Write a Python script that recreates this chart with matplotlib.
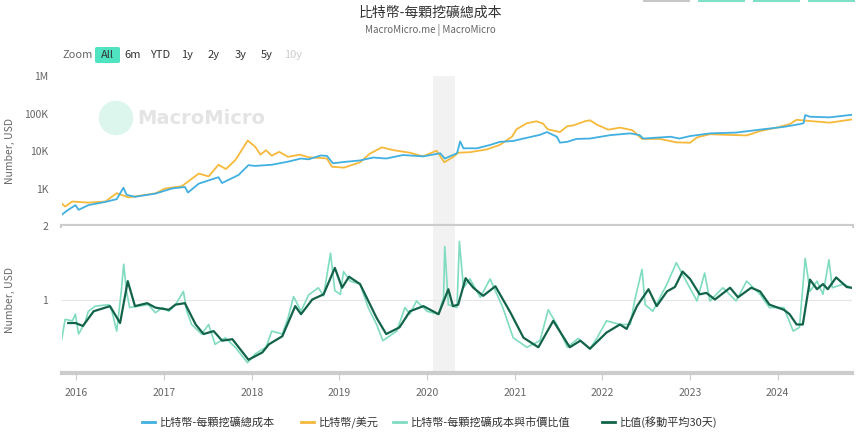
import numpy as np
import pandas as pd
import matplotlib
matplotlib.use("Agg")
import matplotlib.pyplot as plt
from matplotlib.lines import Line2D
from matplotlib.patches import FancyBboxPatch, Ellipse, Rectangle

plt.rcParams['font.family'] = ['Noto Sans CJK TC', 'DejaVu Sans']

# 比特幣-每顆挖礦總成本 (USD)
cost_dates = ["2015-11-01", "2015-11-28", "2015-12-28", "2016-01-10", "2016-02-20", "2016-05-01",
              "2016-06-17", "2016-07-15", "2016-07-28", "2016-09-01", "2016-11-25", "2017-02-02",
              "2017-03-28", "2017-04-10", "2017-05-25", "2017-08-15", "2017-08-30", "2017-11-07",
              "2017-12-18", "2018-01-15", "2018-03-25", "2018-06-01", "2018-07-25", "2018-08-25",
              "2018-10-15", "2018-11-10", "2018-12-05", "2019-01-20", "2019-03-28", "2019-05-22",
              "2019-07-15", "2019-09-23", "2019-12-17", "2020-02-25", "2020-03-15", "2020-05-05",
              "2020-05-18", "2020-06-01", "2020-07-27", "2020-09-20", "2020-10-30", "2020-12-25",
              "2021-02-06", "2021-04-16", "2021-05-15", "2021-06-25", "2021-07-08", "2021-08-08",
              "2021-09-15", "2021-11-10", "2022-02-03", "2022-04-27", "2022-06-05", "2022-06-20",
              "2022-10-12", "2022-11-18", "2023-01-01", "2023-03-25", "2023-07-12", "2023-11-02",
              "2024-01-27", "2024-04-01", "2024-04-18", "2024-04-25", "2024-05-15", "2024-08-05",
              "2024-11-03"]
cost_vals = [200, 270, 360, 270, 360, 440,
             520, 1050, 680, 600, 730, 1000,
             1100, 780, 1350, 2000, 1400, 2300,
             4200, 4000, 4300, 5200, 6300, 6000,
             7600, 7400, 4700, 5100, 5600, 6700,
             6300, 7800, 7200, 8700, 6300, 8700,
             18000, 11800, 11800, 14500, 17500, 18500,
             21500, 27000, 32000, 24000, 16700, 17600,
             21000, 21500, 26500, 29500, 26500, 21500,
             24000, 21500, 25000, 29500, 31000, 38000,
             44000, 52000, 55000, 91000, 82000, 79000,
             92000]

# 比特幣/美元
price_dates = ["2015-11-01", "2015-11-15", "2015-12-15", "2016-02-20", "2016-05-01", "2016-06-17",
               "2016-08-05", "2016-11-25", "2017-01-05", "2017-03-15", "2017-05-25", "2017-07-05",
               "2017-08-15", "2017-09-15", "2017-10-25", "2017-12-15", "2018-01-15", "2018-02-06",
               "2018-03-01", "2018-03-25", "2018-04-25", "2018-06-01", "2018-07-20", "2018-08-25",
               "2018-10-15", "2018-11-10", "2018-12-01", "2019-01-20", "2019-03-28", "2019-05-08",
               "2019-06-27", "2019-08-15", "2019-10-22", "2019-12-15", "2020-02-10", "2020-03-13",
               "2020-04-20", "2020-05-10", "2020-06-28", "2020-09-05", "2020-10-30", "2020-12-20",
               "2021-01-08", "2021-02-20", "2021-04-01", "2021-04-28", "2021-05-18", "2021-07-08",
               "2021-08-08", "2021-09-01", "2021-10-20", "2021-11-10", "2021-12-10", "2022-01-25",
               "2022-03-15", "2022-05-05", "2022-06-15", "2022-08-28", "2022-11-05", "2023-01-01",
               "2023-01-30", "2023-03-25", "2023-06-02", "2023-08-25", "2023-10-20", "2023-12-28",
               "2024-02-20", "2024-03-20", "2024-05-15", "2024-08-05", "2024-11-03"]
price_vals = [400, 330, 450, 420, 450, 750,
              580, 740, 1000, 1150, 2500, 2100,
              4300, 3300, 5800, 19000, 13000, 8000,
              10500, 7500, 9500, 7000, 8000, 6800,
              6500, 6300, 3800, 3600, 5000, 8500,
              12500, 10500, 9000, 7200, 10200, 5000,
              7000, 9000, 9300, 11000, 14500, 24000,
              38000, 55000, 62000, 54000, 38000, 32000,
              46000, 48000, 62000, 66000, 50000, 37000,
              42000, 36000, 21000, 21000, 17000, 16600,
              23000, 28000, 27000, 26000, 34000, 42000,
              52000, 68000, 63000, 57000, 69000]

# 比特幣-每顆挖礦成本與市價比值
ratio_dates = ["2015-11-01", "2015-11-15", "2015-12-15", "2015-12-28", "2016-01-10", "2016-02-05",
               "2016-02-20", "2016-03-20", "2016-05-15", "2016-05-28", "2016-06-17", "2016-07-06",
               "2016-07-16", "2016-07-28", "2016-08-10", "2016-10-27", "2016-11-25", "2016-12-25",
               "2017-01-20", "2017-02-17", "2017-03-22", "2017-04-05", "2017-04-25", "2017-06-06",
               "2017-07-05", "2017-08-01", "2017-09-12", "2017-10-24", "2017-12-14", "2018-01-15",
               "2018-03-01", "2018-03-25", "2018-05-08", "2018-06-01", "2018-06-24", "2018-07-25",
               "2018-08-25", "2018-10-05", "2018-10-27", "2018-11-25", "2018-12-13", "2019-01-05",
               "2019-01-18", "2019-02-15", "2019-03-28", "2019-05-01", "2019-06-05", "2019-07-01",
               "2019-08-28", "2019-10-01", "2019-10-22", "2019-11-18", "2020-01-01", "2020-02-18",
               "2020-03-10", "2020-03-15", "2020-03-30", "2020-05-05", "2020-05-15", "2020-06-01",
               "2020-06-28", "2020-08-10", "2020-09-20", "2020-11-12", "2020-12-25", "2021-02-20",
               "2021-04-16", "2021-05-20", "2021-06-25", "2021-08-08", "2021-09-22", "2021-11-10",
               "2021-12-10", "2022-01-18", "2022-03-15", "2022-04-27", "2022-05-15", "2022-06-15",
               "2022-06-28", "2022-07-30", "2022-09-27", "2022-11-05", "2022-12-01", "2023-01-30",
               "2023-03-03", "2023-03-25", "2023-05-18", "2023-07-12", "2023-08-25", "2023-10-20",
               "2023-11-28", "2024-01-27", "2024-03-06", "2024-04-01", "2024-04-25", "2024-05-15",
               "2024-06-13", "2024-07-08", "2024-08-02", "2024-08-16", "2024-10-01", "2024-11-03"]
ratio_vals = [0.46, 0.73, 0.71, 0.80, 0.53, 0.68,
              0.84, 0.91, 0.93, 0.84, 0.57, 1.11,
              1.48, 1.11, 0.89, 0.93, 0.82, 0.89,
              0.84, 0.93, 1.11, 0.84, 0.66, 0.53,
              0.66, 0.39, 0.48, 0.35, 0.14, 0.26,
              0.35, 0.57, 0.53, 0.75, 1.04, 0.84,
              1.06, 1.16, 1.05, 1.63, 1.12, 1.07,
              1.38, 1.25, 1.21, 0.89, 0.66, 0.44,
              0.57, 0.89, 0.80, 0.98, 0.84, 0.80,
              1.03, 1.72, 0.93, 0.89, 1.79, 1.16,
              1.28, 1.03, 1.28, 0.89, 0.48, 0.35,
              0.44, 0.86, 0.66, 0.35, 0.47, 0.33,
              0.48, 0.71, 0.66, 0.66, 0.98, 1.41,
              0.93, 0.84, 1.21, 1.50, 1.34, 0.98,
              1.36, 0.98, 1.16, 0.98, 1.25, 1.07,
              0.89, 0.89, 0.57, 0.62, 1.56, 1.11,
              1.25, 1.07, 1.54, 1.16, 1.21, 1.16]

# 比值(移動平均30天)
ma_dates = ["2015-11-28", "2015-12-28", "2016-01-28", "2016-03-13", "2016-05-01", "2016-05-20",
            "2016-07-01", "2016-08-02", "2016-09-01", "2016-10-22", "2016-11-25", "2017-01-20",
            "2017-02-17", "2017-03-28", "2017-05-12", "2017-06-14", "2017-07-26", "2017-08-30",
            "2017-10-12", "2017-12-18", "2018-02-14", "2018-03-13", "2018-05-08", "2018-07-01",
            "2018-07-25", "2018-09-10", "2018-10-27", "2018-12-13", "2019-01-12", "2019-02-10",
            "2019-03-28", "2019-06-05", "2019-07-15", "2019-09-08", "2019-10-22", "2019-12-17",
            "2020-02-18", "2020-03-30", "2020-04-18", "2020-05-10", "2020-06-10", "2020-07-12",
            "2020-08-22", "2020-10-12", "2020-12-14", "2021-02-06", "2021-04-09", "2021-06-10",
            "2021-08-18", "2021-10-01", "2021-11-10", "2022-01-18", "2022-03-15", "2022-04-12",
            "2022-05-25", "2022-07-12", "2022-08-15", "2022-09-27", "2022-10-30", "2022-12-01",
            "2023-01-01", "2023-02-10", "2023-03-10", "2023-04-15", "2023-06-17", "2023-07-20",
            "2023-09-13", "2023-10-20", "2023-11-28", "2024-01-27", "2024-02-20", "2024-03-20",
            "2024-04-15", "2024-05-15", "2024-06-13", "2024-07-08", "2024-07-28", "2024-09-01",
            "2024-10-15", "2024-11-03"]
ma_vals = [0.68, 0.68, 0.64, 0.84, 0.89, 0.91,
           0.68, 1.25, 0.91, 0.95, 0.89, 0.86,
           0.93, 0.95, 0.66, 0.53, 0.57, 0.44,
           0.46, 0.18, 0.28, 0.39, 0.50, 0.91,
           0.80, 1.00, 1.07, 1.43, 1.16, 1.31,
           1.21, 0.75, 0.53, 0.62, 0.84, 0.91,
           0.80, 1.14, 0.91, 0.93, 1.29, 1.16,
           1.05, 1.18, 0.82, 0.48, 0.35, 0.71,
           0.35, 0.44, 0.33, 0.55, 0.66, 0.60,
           0.91, 1.14, 0.91, 1.11, 1.17, 1.38,
           1.28, 1.07, 1.09, 1.00, 1.16, 1.03,
           1.16, 1.11, 0.93, 0.86, 0.80, 0.66,
           0.66, 1.27, 1.14, 1.21, 1.14, 1.30,
           1.17, 1.16]

shade_start, shade_end = "2020-01-25", "2020-04-27"
year_ticks = [str(y) for y in range(2016, 2025)]

c_blue = "#41b0e0"
c_orange = "#f6b93b"
c_light = "#7fdcc0"
c_dark = "#12634a"
c_sep = "#cccccc"
c_text = "#666666"

fig = plt.figure(figsize=(8.6, 4.36), dpi=100)
W, H = 860, 436

def fx(px):
    return px / W

def fy(py):
    return 1 - py / H

left, right = fx(62), fx(852)
ax1 = fig.add_axes([left, fy(226), right - left, fy(76) - fy(226)])
ax2 = fig.add_axes([left, fy(373), right - left, fy(226) - fy(373)])

xmin, xmax = pd.Timestamp("2015-11-02"), pd.Timestamp("2024-11-06")

for ax in (ax1, ax2):
    ax.axvspan(pd.Timestamp(shade_start), pd.Timestamp(shade_end), color="#f2f2f2", zorder=0, lw=0)
    ax.set_xlim(xmin, xmax)
    for s in ax.spines.values():
        s.set_visible(False)
    ax.tick_params(axis="y", length=0, labelsize=7.5, colors=c_text, pad=10)

# watermark (behind the lines)
ax1.add_artist(Ellipse((fx(116), fy(118)), width=fx(33), height=33 / H,
                       transform=fig.transFigure, color="#dcf6ee", zorder=1, clip_on=False))
ax1.text(fx(137), fy(119), "MacroMicro", fontsize=14, color="#e4e4e4", fontweight="bold",
         va="center", ha="left", family=["DejaVu Sans"], transform=fig.transFigure, zorder=1)

# upper panel
ax1.plot(pd.to_datetime(price_dates), price_vals, color=c_orange, lw=1.3, zorder=3)
ax1.plot(pd.to_datetime(cost_dates), cost_vals, color=c_blue, lw=1.3, zorder=4)
ax1.set_yscale("log")
ax1.set_ylim(100, 1e6)
ax1.set_yticks([1e3, 1e4, 1e5, 1e6])
ax1.set_yticklabels(["1K", "10K", "100K", "1M"])
ax1.minorticks_off()
ax1.set_xticks([])
ax1.axhline(100, color=c_sep, lw=3, zorder=5, clip_on=False)
ax1.set_ylabel("Number, USD", fontsize=7.5, color=c_text)
ax1.yaxis.set_label_coords(-0.06, 0.5)

# lower panel
ax2.axhline(1, color="#e6e6e6", lw=0.8, zorder=1)
ax2.plot(pd.to_datetime(ratio_dates), ratio_vals, color=c_light, lw=1.2, zorder=3)
ax2.plot(pd.to_datetime(ma_dates), ma_vals, color=c_dark, lw=1.6, zorder=4)
ax2.set_ylim(0, 2)
ax2.set_yticks([1, 2])
ax2.set_yticklabels(["1", "2"])
ax2.axhline(0, color=c_sep, lw=3, zorder=5, clip_on=False)
ax2.set_ylabel("Number, USD", fontsize=7.5, color=c_text)
ax2.yaxis.set_label_coords(-0.06, 0.5)
ax2.set_xticks(pd.to_datetime([y + "-01-01" for y in year_ticks]))
ax2.set_xticklabels(year_ticks)
ax2.tick_params(axis="x", length=5, width=0.8, color="#cccccc", labelsize=7.5,
                labelcolor=c_text, pad=6)

# title
fig.text(0.5, fy(13), "比特幣-每顆挖礦總成本", ha="center", va="center", fontsize=10, color="#333333")
fig.text(0.5, fy(30), "MacroMicro.me | MacroMicro", ha="center", va="center", fontsize=7, color=c_text)

# range selector
fig.text(fx(62), fy(55), "Zoom", fontsize=8, color=c_text, va="center")
fig.add_artist(FancyBboxPatch((fx(95), fy(63)), fx(25), fy(47) - fy(63),
                              boxstyle="round,pad=0,rounding_size=0.003",
                              transform=fig.transFigure, color="#50e3c2", lw=0))
fig.text(fx(107), fy(55), "All", fontsize=8, color="#333333", va="center", ha="center")
for lab, px in [("6m", 133), ("YTD", 160), ("1y", 187), ("2y", 214), ("3y", 241), ("5y", 267)]:
    fig.text(fx(px), fy(55), lab, fontsize=8, color="#333333", va="center", ha="center")
fig.text(fx(293), fy(55), "10y", fontsize=8, color="#cccccc", va="center", ha="center")

# top-right button edges
for x0, c in [(643, "#c8c8c8"), (698, "#7fe0c8"), (753, "#7fe0c8"), (808, "#7fe0c8")]:
    fig.add_artist(Rectangle((fx(x0), fy(2)), fx(47), fy(0) - fy(2), transform=fig.transFigure,
                             color=c, lw=0))

# legend
leg = [(c_blue, "比特幣-每顆挖礦總成本", 142), (c_orange, "比特幣/美元", 301),
       (c_light, "比特幣-每顆挖礦成本與市價比值", 393), (c_dark, "比值(移動平均30天)", 602)]
for c, lab, px in leg:
    fig.add_artist(Line2D([fx(px), fx(px + 13)], [fy(422), fy(422)], color=c, lw=2,
                          transform=fig.transFigure))
    fig.text(fx(px + 18), fy(422), lab, fontsize=8, color="#333333", va="center", ha="left")

fig.savefig("out.png", dpi=100)
